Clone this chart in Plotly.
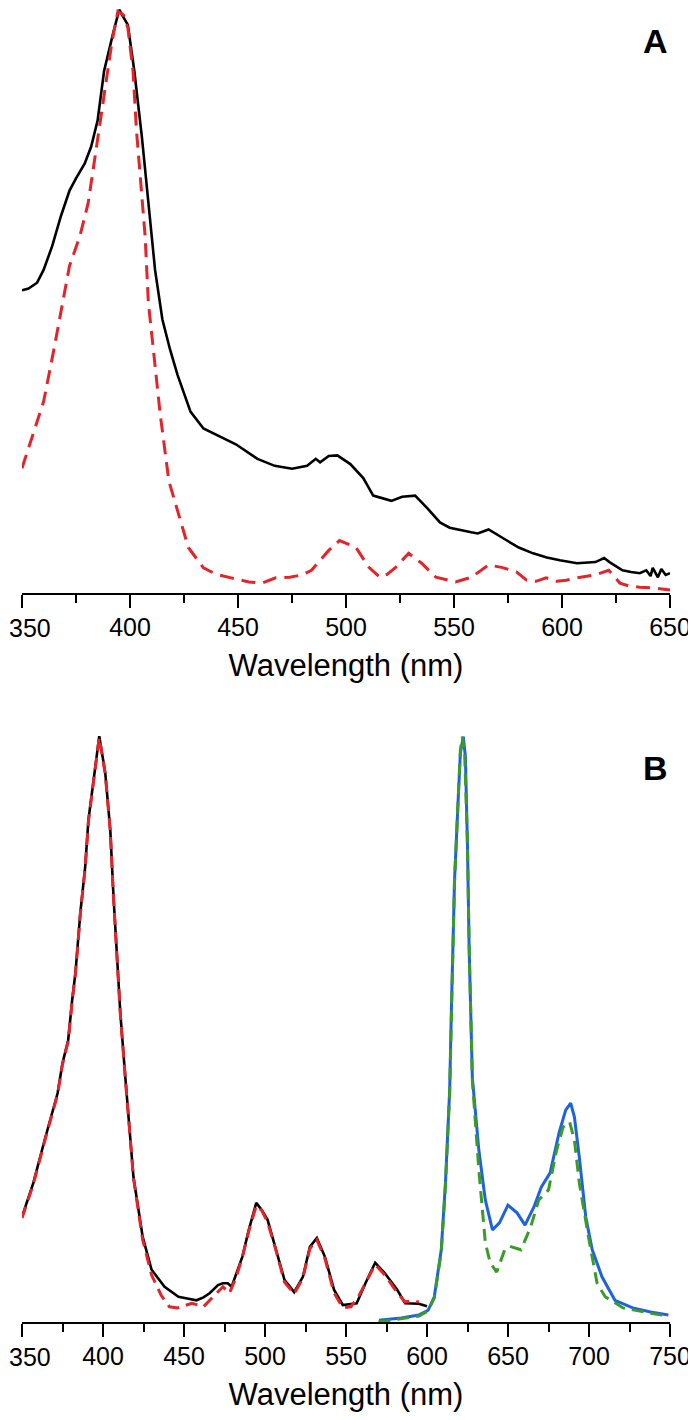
import plotly.graph_objects as go

# ---------------- Panel A data ----------------
a_black_x = [350, 353, 357, 360, 364, 368, 372, 375, 379, 382, 385, 388, 392, 395, 399, 402,
             405.5, 408.5, 411.6, 415, 418.5, 422, 428, 434, 441, 449, 459, 467, 475, 482, 486,
             488, 492, 496, 502, 508, 512.6, 516, 521, 526, 532, 537.5, 543.5, 548, 553.7, 558,
             561, 566, 574.5, 580, 586.6, 593, 599, 607, 615.5, 619.5, 622, 628, 632, 636, 639,
             641, 642, 644.4, 646, 648, 650]
a_black_y = [0.519, 0.522, 0.532, 0.554, 0.595, 0.646, 0.690, 0.711, 0.736, 0.765, 0.810, 0.895,
             0.957, 1.0, 0.974, 0.895, 0.782, 0.668, 0.554, 0.469, 0.418, 0.374, 0.311, 0.282,
             0.269, 0.255, 0.230, 0.218, 0.213, 0.218, 0.230, 0.224, 0.235, 0.236, 0.221, 0.197,
             0.167, 0.163, 0.158, 0.165, 0.167, 0.146, 0.121, 0.112, 0.107, 0.104, 0.102, 0.109,
             0.090, 0.078, 0.068, 0.061, 0.056, 0.051, 0.053, 0.060, 0.053, 0.039, 0.036, 0.034,
             0.039, 0.029, 0.043, 0.027, 0.041, 0.031, 0.034]

a_red_x = [350, 355, 360, 365, 368.5, 372, 376.8, 380.6, 384.7, 388.4, 391.7, 394.4, 397, 399,
           401.4, 403, 404.6, 407, 408.5, 410.8, 414, 418, 422, 427, 434, 440, 446.8, 455, 461,
           467.5, 474, 479.6, 484, 488, 492, 497, 504.6, 510.6, 515.7, 519, 523, 529, 535, 541.6,
           550.7, 558, 566, 572, 579, 583.6, 588, 592.6, 597.6, 602, 607, 615.5, 621.6, 626.8,
           631, 636, 642, 650]
a_red_y = [0.214, 0.272, 0.328, 0.422, 0.493, 0.561, 0.612, 0.668, 0.770, 0.867, 0.946, 0.997,
           0.991, 0.969, 0.895, 0.793, 0.724, 0.612, 0.498, 0.422, 0.306, 0.192, 0.141, 0.078,
           0.043, 0.032, 0.026, 0.019, 0.017, 0.026, 0.027, 0.031, 0.039, 0.056, 0.073, 0.090,
           0.078, 0.044, 0.027, 0.032, 0.044, 0.068, 0.051, 0.027, 0.019, 0.027, 0.048, 0.044,
           0.036, 0.022, 0.020, 0.026, 0.020, 0.022, 0.026, 0.031, 0.039, 0.017, 0.012, 0.010,
           0.009, 0.005]

# ---------------- Panel B data ----------------
b_black_x = [350, 357, 364, 372, 375, 378.5, 381, 383, 386, 389, 391, 394, 397.7, 401.4, 404.5,
             406.5, 408.8, 410.7, 413.8, 418.8, 424.5, 430, 438, 446.6, 452, 457.7, 462, 465.8,
             471, 474, 477, 479.4, 486, 490, 494.6, 498, 501.6, 507, 512, 518, 523.4, 527.7,
             532, 537, 542.6, 548, 556.6, 562, 568, 574, 581.6, 586.5, 595, 600]
b_black_y = [0.179, 0.237, 0.310, 0.390, 0.441, 0.480, 0.549, 0.595, 0.697, 0.775, 0.855, 0.923,
             0.998, 0.935, 0.838, 0.724, 0.612, 0.526, 0.416, 0.247, 0.145, 0.089, 0.060, 0.043,
             0.040, 0.037, 0.042, 0.049, 0.063, 0.066, 0.066, 0.060, 0.111, 0.157, 0.203, 0.191,
             0.174, 0.123, 0.072, 0.051, 0.077, 0.128, 0.143, 0.111, 0.055, 0.029, 0.032, 0.066,
             0.101, 0.083, 0.055, 0.032, 0.031, 0.027]

b_red_x = [350, 357, 364, 372, 375, 378.5, 381, 383, 386, 389, 391, 394, 397.7, 401.4, 404.5,
           406.5, 408.8, 410.7, 413.8, 418.8, 424.5, 430, 436, 441, 446, 450, 455, 462, 468, 474,
           478, 482, 486, 490, 494.6, 498, 501.6, 507, 512, 518, 523.4, 527.7, 532, 537, 542.6,
           548, 553, 558, 562, 568, 574, 581.6, 586.5, 590, 595]
b_red_y = [0.177, 0.235, 0.308, 0.388, 0.439, 0.478, 0.547, 0.593, 0.695, 0.773, 0.853, 0.921,
           0.996, 0.933, 0.836, 0.722, 0.610, 0.524, 0.414, 0.245, 0.140, 0.080, 0.045, 0.026,
           0.024, 0.028, 0.032, 0.026, 0.043, 0.060, 0.049, 0.075, 0.110, 0.155, 0.198, 0.190,
           0.170, 0.120, 0.068, 0.048, 0.075, 0.125, 0.140, 0.108, 0.050, 0.024, 0.026, 0.045,
           0.066, 0.098, 0.080, 0.050, 0.034, 0.036, 0.034]

b_blue_x = [570.4, 584, 595, 600.7, 604.5, 608.8, 611.4, 614, 615, 617, 619.3, 620.6, 622.4,
            623.7, 625, 626, 628, 632, 636, 640.4, 644.7, 650, 655.6, 660.5, 666, 670.6, 676,
            681.5, 685.6, 688.7, 691, 694, 698, 702, 708, 716, 727, 738, 749]
b_blue_y = [0.003, 0.007, 0.012, 0.020, 0.043, 0.123, 0.237, 0.395, 0.526, 0.753, 0.894, 0.969,
            0.997, 0.963, 0.809, 0.639, 0.416, 0.293, 0.208, 0.157, 0.169, 0.199, 0.186, 0.165,
            0.196, 0.230, 0.254, 0.322, 0.361, 0.373, 0.349, 0.281, 0.179, 0.123, 0.077, 0.037,
            0.024, 0.017, 0.012]

b_green_x = [570, 584, 595, 600.7, 604.5, 608.8, 611.4, 614, 615, 617, 619.3, 620.6, 621.8,
             623.2, 625, 626, 628, 632, 636, 639, 643, 648, 651, 654, 658, 664, 669, 675, 680,
             684, 688, 691, 694, 700, 705, 710, 721, 738, 749]
b_green_y = [0.0, 0.005, 0.010, 0.019, 0.041, 0.119, 0.233, 0.392, 0.523, 0.750, 0.894, 0.974,
             0.997, 0.971, 0.813, 0.642, 0.412, 0.259, 0.135, 0.101, 0.085, 0.123, 0.129, 0.126,
             0.123, 0.162, 0.208, 0.225, 0.293, 0.332, 0.341, 0.310, 0.237, 0.140, 0.066, 0.043,
             0.024, 0.015, 0.010]

a_ticks = [350, 400, 450, 500, 550, 600, 650]
b_ticks = [350, 400, 450, 500, 550, 600, 650, 700, 750]

BLACK = "#000000"
RED = "#e3242b"
BLUE = "#1f62e0"
GREEN = "#3a9a2a"
FONT = "Liberation Sans, Arial, sans-serif"

fig = go.Figure()

fig.add_trace(go.Scatter(x=a_black_x, y=a_black_y, mode="lines", xaxis="x", yaxis="y",
                         line=dict(color=BLACK, width=2.6), cliponaxis=False, showlegend=False))
fig.add_trace(go.Scatter(x=a_red_x, y=a_red_y, mode="lines", xaxis="x", yaxis="y",
                         line=dict(color=RED, width=3, dash="14px,8px"), cliponaxis=False,
                         showlegend=False))

fig.add_trace(go.Scatter(x=b_black_x, y=b_black_y, mode="lines", xaxis="x2", yaxis="y2",
                         line=dict(color=BLACK, width=2.6), cliponaxis=False, showlegend=False))
fig.add_trace(go.Scatter(x=b_red_x, y=b_red_y, mode="lines", xaxis="x2", yaxis="y2",
                         line=dict(color=RED, width=3, dash="12px,7px"), cliponaxis=False,
                         showlegend=False))
fig.add_trace(go.Scatter(x=b_blue_x, y=b_blue_y, mode="lines", xaxis="x2", yaxis="y2",
                         line=dict(color=BLUE, width=3), cliponaxis=False, showlegend=False))
fig.add_trace(go.Scatter(x=b_green_x, y=b_green_y, mode="lines", xaxis="x2", yaxis="y2",
                         line=dict(color=GREEN, width=3, dash="12px,7px"), cliponaxis=False,
                         showlegend=False))

# page body has an 8px margin; figure is sized to fit the remaining window
OFF = 8
W = 696 - OFF
H = 1412.0

def px_x(x):
    return (x - OFF) / W

def px_y(y):
    return (H - (y - OFF)) / H

def labels(ticks):
    # the first label is drawn as a left-anchored annotation so it stays on the page
    out = [str(t) for t in ticks]
    out[0] = ""
    return out

def xaxis_cfg(rng, ticks, anchor):
    return dict(
        domain=[px_x(22), px_x(670)], range=rng, anchor=anchor, automargin=False,
        showline=True, linecolor="black", linewidth=2,
        ticks="outside", ticklen=13, tickwidth=2, tickcolor="black",
        tickvals=ticks, ticktext=labels(ticks),
        tickfont=dict(family=FONT, size=25, color="black"),
        ticklabelstandoff=-2, ticklabeloverflow="allow",
        minor=dict(dtick=25, tick0=350, ticks="outside", ticklen=8, tickwidth=2,
                   tickcolor="black", showgrid=False),
        showgrid=False, zeroline=False,
        title=dict(text="Wavelength (nm)", font=dict(family=FONT, size=31, color="black"),
                   standoff=14),
    )

def yaxis_cfg(dom, rng, anchor):
    return dict(domain=dom, range=rng, anchor=anchor, visible=False, automargin=False,
                showgrid=False, zeroline=False)

def first_label(ticks, xref, label_y):
    return dict(text=str(ticks[0]), x=ticks[0], xref=xref, y=px_y(label_y), yref="paper",
                xanchor="left", yanchor="middle", xshift=-(22 - OFF), showarrow=False,
                borderpad=0, font=dict(family=FONT, size=25, color="black"))

fig.update_layout(
    width=int(W), height=int(H),
    margin=dict(l=0, r=0, t=0, b=0, autoexpand=False),
    paper_bgcolor="white", plot_bgcolor="white",
    xaxis=xaxis_cfg([350, 650], a_ticks, "y"),
    yaxis=yaxis_cfg([px_y(593), 1.0], [0, 1.003], "x"),
    xaxis2=xaxis_cfg([350, 750], b_ticks, "y2"),
    yaxis2=yaxis_cfg([px_y(1322), px_y(735)], [0, 1], "x2"),
    annotations=[
        dict(text="<b>A</b>", x=px_x(655), y=px_y(41), xref="paper", yref="paper",
             showarrow=False, font=dict(family=FONT, size=34, color="black"),
             xanchor="center", yanchor="middle"),
        dict(text="<b>B</b>", x=px_x(655), y=px_y(768), xref="paper", yref="paper",
             showarrow=False, font=dict(family=FONT, size=34, color="black"),
             xanchor="center", yanchor="middle"),
        first_label(a_ticks, "x", 628),
        first_label(b_ticks, "x2", 1357),
    ],
)

fig.write_html("out.html")
